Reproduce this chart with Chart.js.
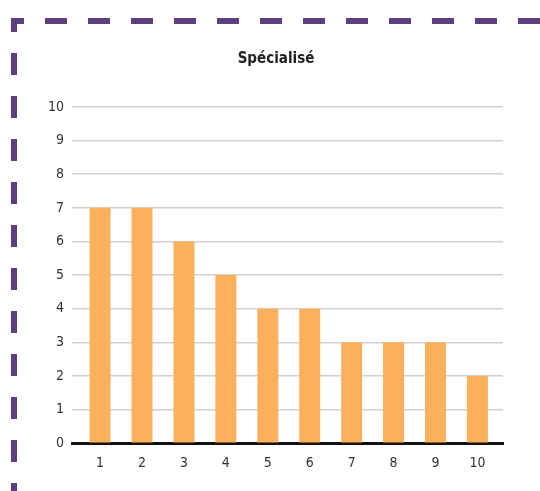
<!DOCTYPE html>
<html>
<head>
<meta charset="utf-8">
<script src="https://cdn.jsdelivr.net/npm/chart.js@4/dist/chart.umd.min.js"></script>
<style>
  html, body { margin: 0; padding: 0; background: #fff; }
  #chart { display: block; }
</style>
</head>
<body>
<canvas id="chart" width="540" height="491"></canvas>
<script>
const categories = [1, 2, 3, 4, 5, 6, 7, 8, 9, 10];
const values = [7, 7, 6, 5, 4, 4, 3, 3, 3, 2];
const titleText = 'Spécialisé';

const fontFamily = "'Liberation Sans Narrow', 'DejaVu Sans Condensed', 'Noto Sans', sans-serif";

// dashed purple frame on top and left edges
const framePlugin = {
  id: 'frame',
  beforeDraw: (chart) => {
    const ctx = chart.ctx;
    ctx.save();
    ctx.strokeStyle = '#5b3f80';
    ctx.lineWidth = 6;
    ctx.lineCap = 'butt';
    ctx.setLineDash([22, 21]);
    ctx.lineDashOffset = 9;
    ctx.beginPath();
    ctx.moveTo(11, 21);
    ctx.lineTo(540, 21);
    ctx.stroke();
    ctx.lineDashOffset = 8;
    ctx.beginPath();
    ctx.moveTo(14, 18);
    ctx.lineTo(14, 491);
    ctx.stroke();
    ctx.restore();
  }
};

const points = categories.map((c, i) => ({ x: c, y: values[i] }));

const ctx = document.getElementById('chart').getContext('2d');
new Chart(ctx, {
  type: 'bar',
  data: {
    datasets: [{
      data: points,
      backgroundColor: '#fbb15b',
      borderWidth: 0,
      barPercentage: 0.5,
      categoryPercentage: 1
    }]
  },
  options: {
    responsive: false,
    animation: false,
    layout: { padding: { left: 49, right: 37, top: 0, bottom: 15 } },
    plugins: {
      legend: { display: false },
      tooltip: { enabled: false },
      title: {
        display: true,
        text: titleText,
        color: '#222',
        font: { family: fontFamily, size: 15, weight: 'bold' },
        padding: { top: 50, bottom: 39 }
      }
    },
    scales: {
      x: {
        type: 'linear',
        min: 0.33,
        max: 10.61,
        offset: false,
        grid: { display: false },
        border: { color: '#111', width: 3 },
        afterBuildTicks: (scale) => {
          scale.ticks = categories.map(c => ({ value: c }));
        },
        ticks: {
          color: '#333',
          font: { family: fontFamily, size: 14 },
          padding: 4,
          callback: (v) => String(v)
        }
      },
      y: {
        min: 0,
        max: 10,
        afterFit: (scale) => { scale.width = 23; },
        border: { display: false },
        grid: { color: '#d0d0d0', lineWidth: 1.5, drawTicks: false },
        ticks: {
          stepSize: 1,
          color: '#333',
          font: { family: fontFamily, size: 14 },
          padding: 8
        }
      }
    }
  },
  plugins: [framePlugin]
});
</script>
</body>
</html>
